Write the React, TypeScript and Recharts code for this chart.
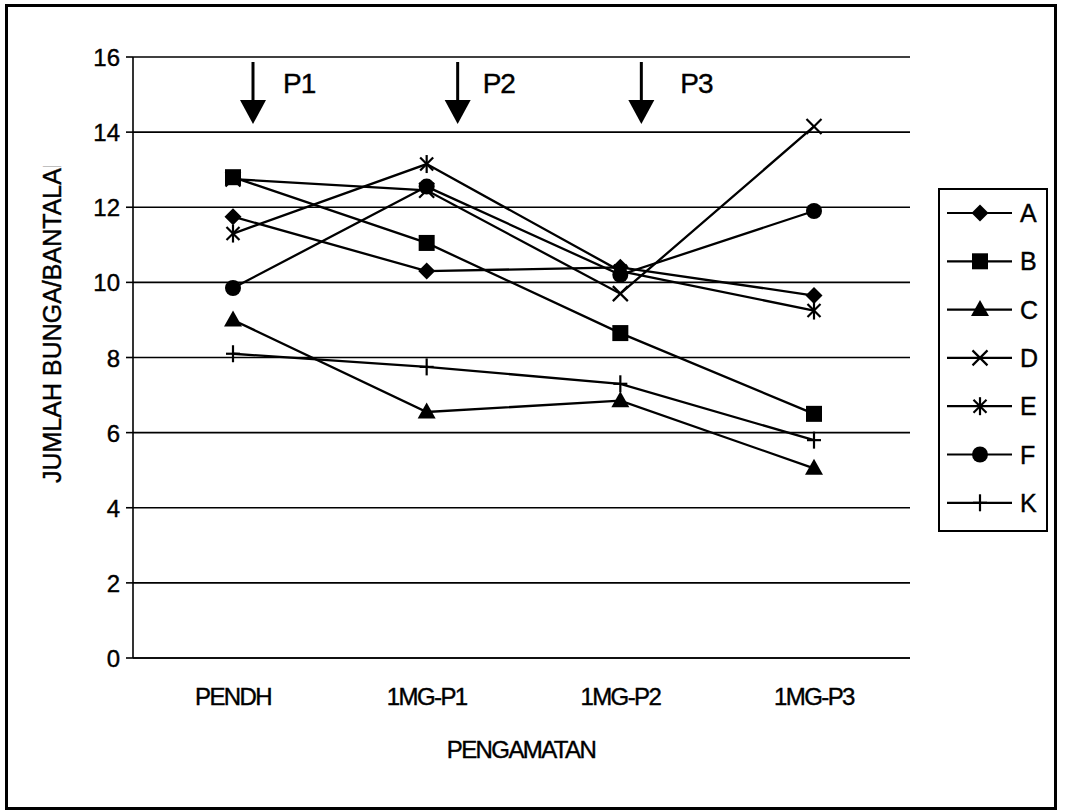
import { CartesianGrid, Legend, Line, LineChart, ReferenceDot, XAxis, YAxis } from 'recharts';

const categories = ['PENDH', '1MG-P1', '1MG-P2', '1MG-P3'];
const yTicks = [0, 2, 4, 6, 8, 10, 12, 14, 16];

const seriesA = [11.75, 10.3, 10.4, 9.65];
const seriesB = [12.8, 11.05, 8.65, 6.5];
const seriesC = [9.0, 6.55, 6.85, 5.05];
const seriesD = [12.75, 12.45, 9.7, 14.15];
const seriesE = [11.3, 13.15, 10.3, 9.25];
const seriesF = [9.85, 12.55, 10.2, 11.9];
const seriesK = [8.1, 7.75, 7.3, 5.8];

const seriesNames = ['A', 'B', 'C', 'D', 'E', 'F', 'K'];
const seriesValues = [seriesA, seriesB, seriesC, seriesD, seriesE, seriesF, seriesK];

const treatments = ['P1', 'P2', 'P3'];
const treatmentAt = ['PENDH', '1MG-P1', '1MG-P2'];

// marker style per series
const shapes: Record<string, string> = {
  A: 'diamond',
  B: 'square',
  C: 'triangle',
  D: 'cross',
  E: 'star',
  F: 'circle',
  K: 'plus',
};

// hand offsets for the arrow annotations (arrow from category, label from arrow)
const arrowDx: Record<string, number> = { P1: 20, P2: 31, P3: 21 };
const labelDx: Record<string, number> = { P1: 30, P2: 25, P3: 39 };

const FONT = '"Liberation Sans", Arial, sans-serif';
const INK = { fill: '#000', stroke: '#000', strokeWidth: 0.4 };

const rows = categories.map((cat, i) => {
  const row: Record<string, string | number> = { cat };
  seriesNames.forEach((name, s) => {
    row[name] = seriesValues[s][i];
  });
  return row;
});

function Marker({ shape, cx, cy }: { shape: string; cx: number; cy: number }) {
  if (cx == null || cy == null) return null;
  switch (shape) {
    case 'diamond':
      return <polygon points={`${cx},${cy - 8.5} ${cx + 8.5},${cy} ${cx},${cy + 8.5} ${cx - 8.5},${cy}`} fill="#000" />;
    case 'square':
      return <rect x={cx - 8} y={cy - 8} width={16} height={16} fill="#000" />;
    case 'triangle':
      return <polygon points={`${cx},${cy - 9.5} ${cx + 9},${cy + 6.5} ${cx - 9},${cy + 6.5}`} fill="#000" />;
    case 'cross':
      return (
        <g stroke="#000" strokeWidth={2.2}>
          <line x1={cx - 7.5} y1={cy - 7.5} x2={cx + 7.5} y2={cy + 7.5} />
          <line x1={cx - 7.5} y1={cy + 7.5} x2={cx + 7.5} y2={cy - 7.5} />
        </g>
      );
    case 'star':
      return (
        <g stroke="#000" strokeWidth={2.2}>
          <line x1={cx - 6.5} y1={cy - 6.5} x2={cx + 6.5} y2={cy + 6.5} />
          <line x1={cx - 6.5} y1={cy + 6.5} x2={cx + 6.5} y2={cy - 6.5} />
          <line x1={cx} y1={cy - 9} x2={cx} y2={cy + 9} />
        </g>
      );
    case 'circle':
      return <circle cx={cx} cy={cy} r={8} fill="#000" />;
    case 'plus':
      return (
        <g stroke="#000" strokeWidth={2.2}>
          <line x1={cx} y1={cy - 8.5} x2={cx} y2={cy + 8.5} />
          <line x1={cx - 7} y1={cy} x2={cx + 7} y2={cy} />
        </g>
      );
    default:
      return null;
  }
}

function XTick({ x, y, payload }: any) {
  return (
    <text x={x} y={y + 47} textAnchor="middle" fontFamily={FONT} fontSize={24} letterSpacing={-1.6} {...INK}>
      {payload.value}
    </text>
  );
}

function YTick({ x, y, payload }: any) {
  return (
    <text x={x} y={y + 9} textAnchor="end" fontFamily={FONT} fontSize={24} {...INK}>
      {payload.value}
    </text>
  );
}

function YTitle() {
  return (
    <g>
      <defs>
        <clipPath id="ytitle-clip">
          <rect x={0} y={166} width={130} height={400} />
        </clipPath>
      </defs>
      <g clipPath="url(#ytitle-clip)">
        <text
          x={0}
          y={0}
          transform="translate(61,483) rotate(-90)"
          textAnchor="start"
          fontFamily={FONT}
          fontSize={25}
          {...INK}
        >
          JUMLAH BUNGA/BANTALAN
        </text>
      </g>
    </g>
  );
}

function XTitle() {
  return (
    <text x={521} y={758} textAnchor="middle" fontFamily={FONT} fontSize={24} letterSpacing={-1.6} {...INK}>
      PENGAMATAN
    </text>
  );
}

function Arrow({ cx, cy, name }: any) {
  const x = cx + arrowDx[name];
  return (
    <g>
      <line x1={x} y1={cy + 5} x2={x} y2={cy + 45} stroke="#000" strokeWidth={3} />
      <polygon points={`${x - 13},${cy + 43} ${x + 13},${cy + 43} ${x},${cy + 67}`} fill="#000" />
      <text x={x + labelDx[name]} y={cy + 36} fontFamily={FONT} fontSize={28} letterSpacing={-1} {...INK}>
        {name}
      </text>
    </g>
  );
}

function LegendBox() {
  return (
    <svg width={110} height={344} style={{ display: 'block' }}>
      <rect x={1} y={1} width={108} height={342} fill="#fff" stroke="#000" strokeWidth={2} />
      {seriesNames.map((name, i) => {
        const cy = 25 + i * 48.3;
        return (
          <g key={name}>
            <line x1={9} y1={cy} x2={74} y2={cy} stroke="#000" strokeWidth={2.2} />
            <Marker shape={shapes[name]} cx={42} cy={cy} />
            <text x={82} y={cy + 9} fontFamily={FONT} fontSize={25} {...INK}>
              {name}
            </text>
          </g>
        );
      })}
    </svg>
  );
}

export default function App() {
  return (
    <div style={{ position: 'absolute', left: 0, top: 0, width: 1066, height: 811, background: '#fff' }}>
      <div
        style={{
          position: 'absolute',
          left: 5,
          top: 4,
          width: 1052,
          height: 806,
          border: '3px solid #000',
          boxSizing: 'border-box',
        }}
      />
      <div style={{ position: 'absolute', left: 0, top: 0 }}>
        <LineChart width={1066} height={811} data={rows} margin={{ top: 57, right: 156, bottom: 93, left: 0 }}>
          <CartesianGrid vertical={false} stroke="#000" strokeWidth={1.6} />
          <XAxis
            dataKey="cat"
            height={60}
            padding={{ left: 100, right: 96 }}
            axisLine={{ stroke: '#000', strokeWidth: 1.6 }}
            tickLine={false}
            tickSize={0}
            tickMargin={0}
            tick={<XTick />}
            interval={0}
            label={<XTitle />}
          />
          <YAxis
            width={133}
            domain={[0, 16]}
            ticks={yTicks}
            interval={0}
            axisLine={{ stroke: '#000', strokeWidth: 1.6 }}
            tickLine={{ stroke: '#000', strokeWidth: 1.6 }}
            tickSize={7}
            tickMargin={6}
            tick={<YTick />}
            label={<YTitle />}
          />
          <YAxis
            yAxisId="frame"
            orientation="right"
            width={0}
            tick={false}
            tickLine={false}
            axisLine={{ stroke: '#000', strokeWidth: 1.6 }}
          />
          {seriesNames.map((name) => (
            <Line
              key={name}
              dataKey={name}
              stroke="#000"
              strokeWidth={2.3}
              isAnimationActive={false}
              activeDot={false}
              dot={(p: any) => <Marker key={`${name}-${p.index}`} shape={shapes[name]} cx={p.cx} cy={p.cy} />}
            />
          ))}
          {treatments.map((name, i) => (
            <ReferenceDot
              key={name}
              x={treatmentAt[i]}
              y={16}
              r={0}
              ifOverflow="visible"
              shape={(p: any) => <Arrow cx={p.cx} cy={p.cy} name={name} />}
            />
          ))}
          <Legend
            layout="vertical"
            align="center"
            verticalAlign="middle"
            wrapperStyle={{ position: 'absolute', left: 938, top: 188, width: 110, height: 344 }}
            content={() => <LegendBox />}
          />
        </LineChart>
      </div>
    </div>
  );
}
